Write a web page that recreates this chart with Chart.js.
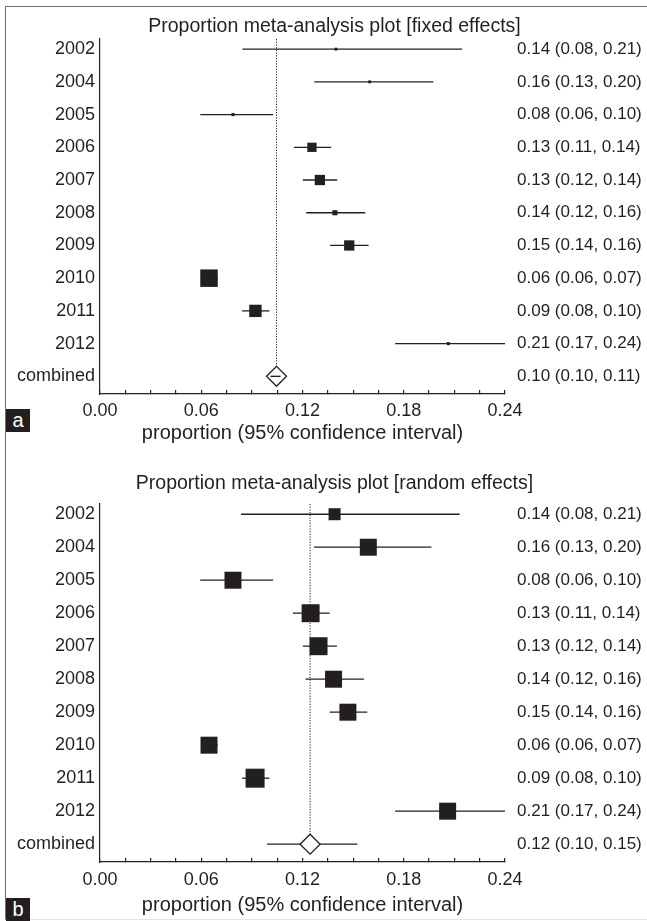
<!DOCTYPE html>
<html>
<head>
<meta charset="utf-8">
<script src="https://cdn.jsdelivr.net/npm/chart.js@4.4.1/dist/chart.umd.min.js"></script>
<style>
  body { margin: 0; background: #fff; }
  #wrap { position: relative; width: 647px; height: 921px; overflow: hidden; font-family: "Liberation Sans", Arial, sans-serif; }
  #frame { position: absolute; left: 5px; top: 6px; width: 680px; height: 912px; border-left: 1.5px solid #707070; border-top: 1.5px solid #707070; border-bottom: 1px solid #e4e4e4; }
  canvas { position: absolute; left: 0; }
  #chartFixed { top: 0; }
  #chartRandom { top: 460px; }
  .tag { position: absolute; left: 6px; width: 24px; height: 23px; background: #231f20; color: #fff; font-size: 20px; line-height: 22px; text-align: center; }
</style>
</head>
<body>
<div id="wrap">
  <div id="frame"></div>
  <!-- canvases run 22px past the right edge so the titles sit where they do in the figure -->
  <canvas id="chartFixed" width="669" height="460"></canvas>
  <canvas id="chartRandom" width="669" height="461"></canvas>
  <div class="tag" style="top:409px">a</div>
  <div class="tag" style="top:898px">b</div>
</div>
<script>
const studies = ["2002", "2004", "2005", "2006", "2007", "2008", "2009", "2010", "2011", "2012", "combined"];

// fixed effects
const fixedEst = [0.1398, 0.1598, 0.0788, 0.1256, 0.1303, 0.1392, 0.1477, 0.0646, 0.0921, 0.2064, 0.1046];
const fixedLo = [0.0844, 0.1270, 0.0594, 0.1149, 0.1202, 0.1222, 0.1364, 0.0610, 0.0842, 0.1749, 0.1010];
const fixedHi = [0.2145, 0.1976, 0.1026, 0.1370, 0.1406, 0.1572, 0.1592, 0.0699, 0.1004, 0.2400, 0.1070];
const fixedWeights = [1.0, 1.0, 1.2, 10.5, 12.9, 3.2, 12.9, 37.3, 18.6, 1.2];
const fixedLabels = ["0.14 (0.08, 0.21)", "0.16 (0.13, 0.20)", "0.08 (0.06, 0.10)", "0.13 (0.11, 0.14)", "0.13 (0.12, 0.14)",
  "0.14 (0.12, 0.16)", "0.15 (0.14, 0.16)", "0.06 (0.06, 0.07)", "0.09 (0.08, 0.10)", "0.21 (0.17, 0.24)", "0.10 (0.10, 0.11)"];

// random effects
const randomEst = [0.1390, 0.1590, 0.0788, 0.1248, 0.1295, 0.1384, 0.1469, 0.0646, 0.0919, 0.2060, 0.1245];
const randomLo = [0.0836, 0.1268, 0.0594, 0.1143, 0.1202, 0.1218, 0.1361, 0.0610, 0.0842, 0.1749, 0.0990];
const randomHi = [0.2131, 0.1964, 0.1026, 0.1361, 0.1404, 0.1564, 0.1584, 0.0699, 0.1004, 0.2400, 0.1525];
const randomWeights = [5.0, 10.0, 10.0, 11.2, 11.2, 10.0, 10.0, 10.0, 12.5, 10.0];
const randomLabels = ["0.14 (0.08, 0.21)", "0.16 (0.13, 0.20)", "0.08 (0.06, 0.10)", "0.13 (0.11, 0.14)", "0.13 (0.12, 0.14)",
  "0.14 (0.12, 0.16)", "0.15 (0.14, 0.16)", "0.06 (0.06, 0.07)", "0.09 (0.08, 0.10)", "0.21 (0.17, 0.24)", "0.12 (0.10, 0.15)"];

const ink = "#231f20";
const yMin = -0.31;
const yMax = 10.54;

const runForest = (canvasId, title, est, lo, hi, weights, labels, opts) => {
  const last = est.length - 1;
  const maxW = Math.max(...weights);
  const datasets = [];

  // confidence interval lines
  lo.forEach((l, i) => {
    datasets.push({
      data: [{ x: l, y: i }, { x: hi[i], y: i }],
      showLine: true,
      borderColor: ink,
      borderWidth: 1.3,
      pointRadius: 0,
      order: opts.lineOrder,
    });
  });

  // study boxes, area ~ weight
  datasets.push({
    data: weights.map((w, i) => ({ x: est[i], y: i })),
    pointStyle: "rect",
    pointRadius: weights.map((w) => (opts.maxBox * Math.sqrt(w / maxW)) / Math.SQRT2),
    backgroundColor: ink,
    borderWidth: 0,
    order: 0,
  });

  // pooled estimate
  datasets.push({
    data: [{ x: est[last], y: last }],
    pointStyle: "rectRot",
    pointRadius: 10,
    backgroundColor: "#fff",
    borderColor: ink,
    borderWidth: 1.3,
    order: opts.diamondOrder,
  });

  // dotted reference line
  datasets.push({
    data: [{ x: est[last], y: yMin }, { x: est[last], y: last - 0.31 }],
    showLine: true,
    borderColor: ink,
    borderWidth: 1,
    borderDash: [1.2, 1.5],
    pointRadius: 0,
    order: 5,
  });

  const ctx = document.getElementById(canvasId).getContext("2d");
  const myChart = new Chart(ctx, {
    type: "scatter",
    data: { datasets },
    options: {
      responsive: false,
      animation: false,
      events: [],
      layout: { padding: 0 },
      plugins: {
        legend: { display: false },
        tooltip: { enabled: false },
        title: {
          display: true,
          text: title,
          color: ink,
          font: { family: "Liberation Sans", size: 19.5, weight: "normal" },
          padding: opts.titlePad,
        },
      },
      scales: {
        x: {
          type: "linear",
          position: "bottom",
          min: 0,
          max: 0.24,
          afterFit: (axis) => { axis.height = opts.xHeight; },
          border: { color: ink, width: 1.2 },
          grid: { drawOnChartArea: false, drawTicks: true, tickLength: -4, color: ink, lineWidth: 1.2 },
          ticks: {
            stepSize: 0.015,
            autoSkip: false,
            maxRotation: 0,
            padding: opts.tickPad,
            color: ink,
            font: { family: "Liberation Sans", size: 18 },
            callback: (v, i) => (i % 4 === 0 ? v.toFixed(2) : ""),
          },
          title: {
            display: true,
            text: "proportion (95% confidence interval)",
            color: ink,
            font: { family: "Liberation Sans", size: 20 },
            padding: { top: 0, bottom: opts.xTitlePad },
          },
        },
        y: {
          type: "linear",
          position: "left",
          reverse: true,
          min: yMin,
          max: yMax,
          afterFit: (axis) => { axis.width = 100; },
          afterBuildTicks: (axis) => { axis.ticks = studies.map((s, i) => ({ value: i })); },
          border: { color: ink, width: 1.2 },
          grid: { display: false, drawTicks: false },
          ticks: {
            padding: 5,
            color: ink,
            font: { family: "Liberation Sans", size: 18 },
            callback: (v) => studies[v],
          },
        },
        y2: {
          type: "linear",
          position: "right",
          reverse: true,
          min: yMin,
          max: yMax,
          afterFit: (axis) => { axis.width = 164; },
          afterBuildTicks: (axis) => { axis.ticks = labels.map((s, i) => ({ value: i })); },
          border: { display: false },
          grid: { display: false, drawTicks: false },
          ticks: {
            padding: 12,
            color: ink,
            font: { family: "Liberation Sans", size: 17 },
            callback: (v) => labels[v],
          },
        },
      },
    },
  });
};

runForest("chartFixed", "Proportion meta-analysis plot [fixed effects]", fixedEst, fixedLo, fixedHi, fixedWeights, fixedLabels, {
  maxBox: 17.5, lineOrder: 1, diamondOrder: 2,
  titlePad: { top: 15.3, bottom: 0.3 }, xHeight: 66, tickPad: 10.2, xTitlePad: 15.0,
});
runForest("chartRandom", "Proportion meta-analysis plot [random effects]", randomEst, randomLo, randomHi, randomWeights, randomLabels, {
  maxBox: 19, lineOrder: 2, diamondOrder: 1,
  titlePad: { top: 12.3, bottom: 8.3 }, xHeight: 59, tickPad: 11.2, xTitlePad: 4.0,
});
</script>
</body>
</html>
